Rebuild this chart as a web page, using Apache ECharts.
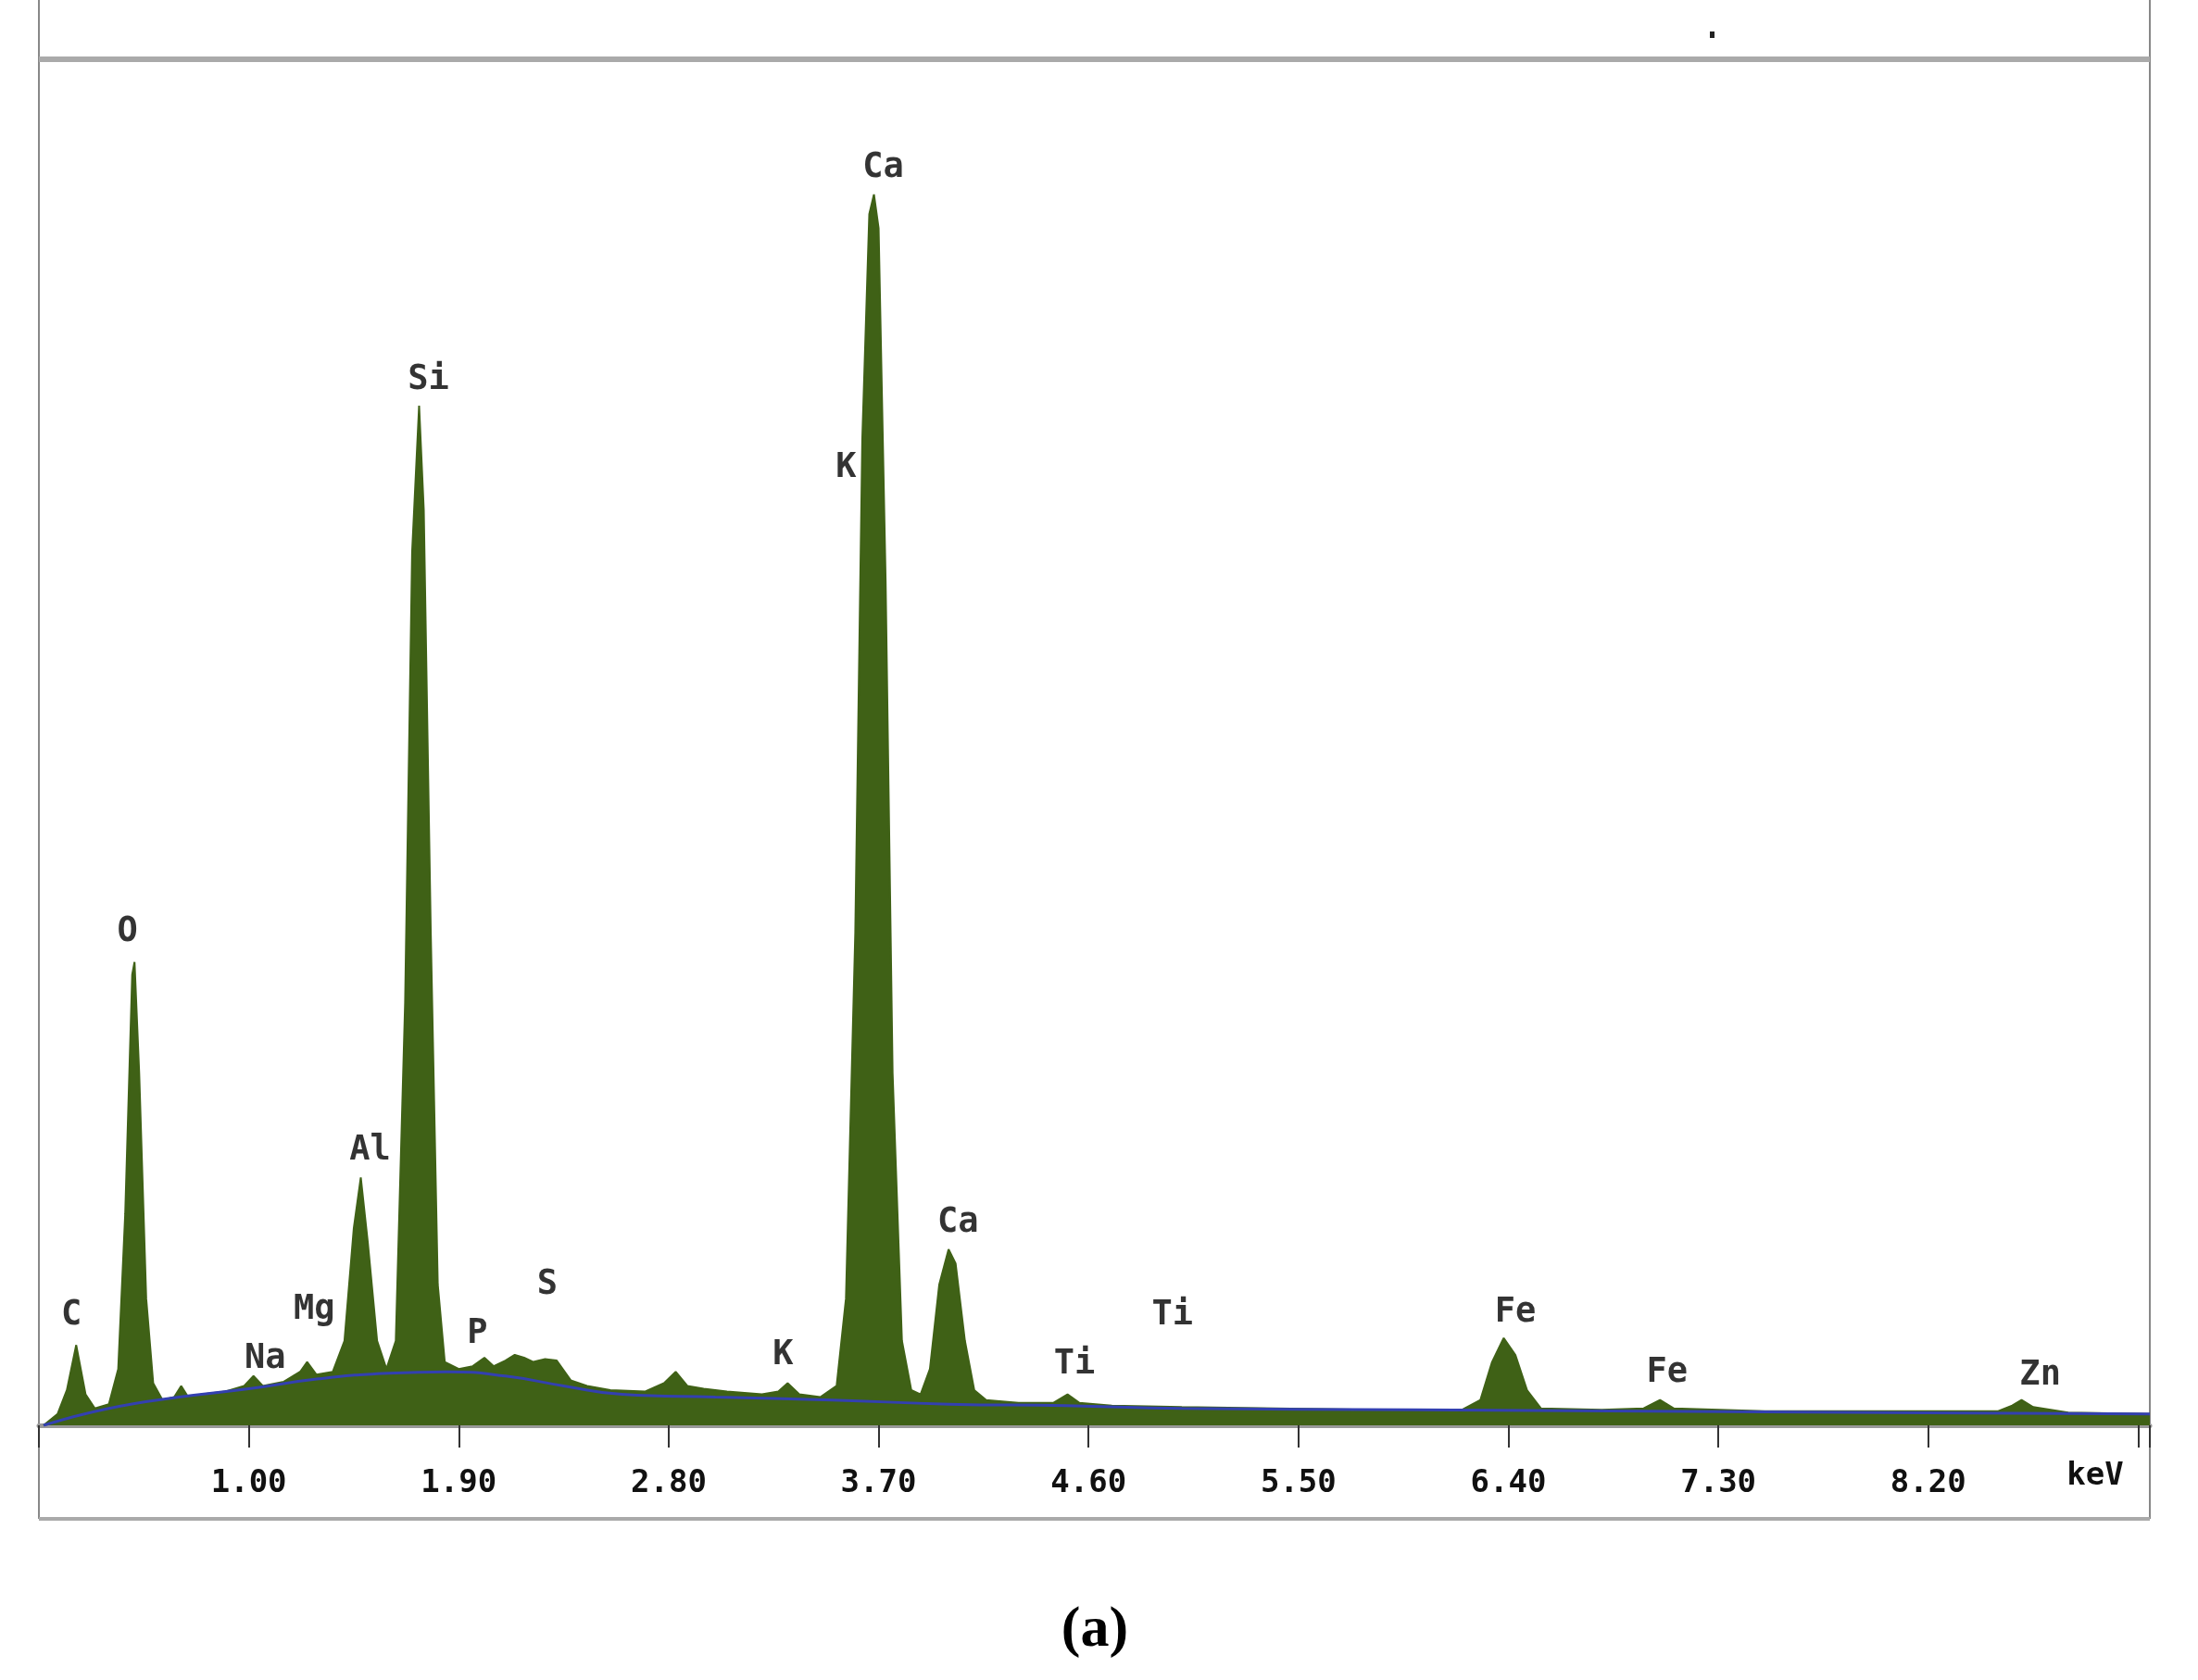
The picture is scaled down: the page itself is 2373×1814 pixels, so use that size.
<!DOCTYPE html>
<html>
<head>
<meta charset="utf-8">
<script src="https://cdn.jsdelivr.net/npm/echarts@6/dist/echarts.min.js"></script>
<style>html,body{margin:0;padding:0;background:#fff}#chart{width:2373px;height:1814px}</style>
</head>
<body>
<div id="chart"></div>
<script>
// spectrum: [keV, counts (arb.)]
var spectrum = [
  [0.12,0],[0.18,8],[0.22,25],[0.26,57],[0.30,22],[0.34,12],[0.40,15],[0.44,40],[0.47,150],[0.50,320],
  [0.51,329],[0.53,250],[0.56,90],[0.59,30],[0.63,18],[0.68,20],[0.71,28],[0.74,20],[0.80,22],[0.90,24],
  [0.98,28],[1.02,35],[1.06,28],[1.15,31],[1.22,38],[1.25,45],[1.29,36],[1.36,38],[1.41,60],[1.45,140],
  [1.48,176],[1.51,130],[1.55,60],[1.59,40],[1.63,60],[1.67,300],[1.70,620],[1.73,724],[1.75,650],[1.78,350],
  [1.81,100],[1.84,45],[1.90,40],[1.96,42],[2.01,48],[2.05,42],[2.10,46],[2.14,50],[2.18,48],[2.22,45],
  [2.27,47],[2.32,46],[2.38,32],[2.45,28],[2.55,25],[2.70,24],[2.78,30],[2.83,38],[2.88,28],[2.95,26],
  [3.05,24],[3.20,22],[3.27,24],[3.31,30],[3.36,22],[3.45,20],[3.52,28],[3.56,90],[3.60,350],[3.63,700],
  [3.66,860],[3.68,874],[3.70,850],[3.73,600],[3.76,250],[3.80,60],[3.84,25],[3.88,22],[3.92,40],[3.96,100],
  [4.00,125],[4.03,115],[4.07,60],[4.11,25],[4.16,18],[4.30,16],[4.45,16],[4.51,22],[4.56,16],[4.70,14],
  [5.00,13],[5.40,12],[5.80,11],[6.20,11],[6.28,18],[6.33,45],[6.38,62],[6.43,50],[6.48,25],[6.54,12],
  [6.80,11],[6.98,12],[7.05,18],[7.11,12],[7.50,10],[8.00,10],[8.50,10],[8.56,14],[8.60,18],[8.65,13],
  [8.80,9],[9.15,8]
];
var background = [
  [0.12,0],[0.4,12],[0.7,20],[1.0,26],[1.3,33],[1.6,37],[1.85,38],[2.1,35],[2.35,28],[2.6,22],
  [3.0,20],[3.5,18],[4.0,15],[4.5,14],[5.0,12],[6.0,11],[7.0,10],[8.0,9],[9.15,8]
];
var peakLabels = [
  ['C',0.24,78],['O',0.48,350],['Na',1.07,47],['Mg',1.28,82],['Al',1.52,195],['Si',1.77,742],
  ['P',1.98,65],['S',2.28,100],['K',3.29,50],['K',3.56,680],['Ca',3.72,893],['Ca',4.04,144],
  ['Ti',4.54,43],['Ti',4.96,78],['Fe',6.43,80],['Fe',7.08,37],['Zn',8.68,35]
];
var tickValues = [1.00,1.90,2.80,3.70,4.60,5.50,6.40,7.30,8.20];

var mono = '"DejaVu Sans Mono", "Liberation Mono", monospace';
var chart = echarts.init(document.getElementById('chart'));
var option = {
  backgroundColor: '#ffffff',
  animation: false,
  grid: {left: 42, right: 52, top: 64, bottom: 275},
  xAxis: {
    type: 'value', min: 0.1, max: 9.15, interval: 0.9, offset: 8,
    axisLine: {lineStyle: {color: '#999', width: 5}},
    axisTick: {length: 24, lineStyle: {color: '#333', width: 2}},
    axisLabel: {
      margin: 38, color: '#111', fontFamily: mono, fontWeight: 'bold', fontSize: 34,
      formatter: function (v) {
        var hit = tickValues.some(function (t) { return Math.abs(t - v) < 1e-6; });
        return hit ? v.toFixed(2) : '';
      }
    },
    splitLine: {show: false}
  },
  yAxis: {type: 'value', min: 0, max: 970, show: false},
  series: [
    {
      type: 'line', data: spectrum, symbol: 'none', smooth: false,
      lineStyle: {color: '#3f6116', width: 2},
      areaStyle: {color: '#3f6116', opacity: 1}
    },
    {
      type: 'line', data: background, symbol: 'none', smooth: true,
      lineStyle: {color: '#3340b0', width: 3}
    },
    {
      type: 'scatter', symbolSize: 0,
      data: peakLabels.map(function (p) { return {name: p[0], value: [p[1], p[2]]}; }),
      label: {
        show: true, position: 'inside', formatter: '{b}',
        color: '#000', fontFamily: mono, fontWeight: 'bold', fontSize: 37
      }
    }
  ],
  graphic: [
    {type: 'line', shape: {x1: 42, y1: 0, x2: 42, y2: 1640}, style: {stroke: '#888', lineWidth: 2}},
    {type: 'line', shape: {x1: 2321, y1: 0, x2: 2321, y2: 1640}, style: {stroke: '#888', lineWidth: 2}},
    {type: 'line', shape: {x1: 42, y1: 64, x2: 2321, y2: 64}, style: {stroke: '#aaa', lineWidth: 6}},
    {type: 'line', shape: {x1: 42, y1: 1640, x2: 2321, y2: 1640}, style: {stroke: '#aaa', lineWidth: 4}},
    {type: 'rect', shape: {x: 1846, y: 34, width: 5, height: 7}, style: {fill: '#222'}},
    {type: 'text', x: 2262, y: 1594, style: {text: 'keV', font: 'bold 34px ' + mono, fill: '#111', textAlign: 'center', textVerticalAlign: 'middle'}},
    {type: 'text', x: 1182, y: 1761, style: {text: '(a)', font: 'bold 62px "Liberation Serif", serif', fill: '#000', textAlign: 'center', textVerticalAlign: 'middle'}}
  ]
};
chart.setOption(option);
</script>
</body>
</html>
